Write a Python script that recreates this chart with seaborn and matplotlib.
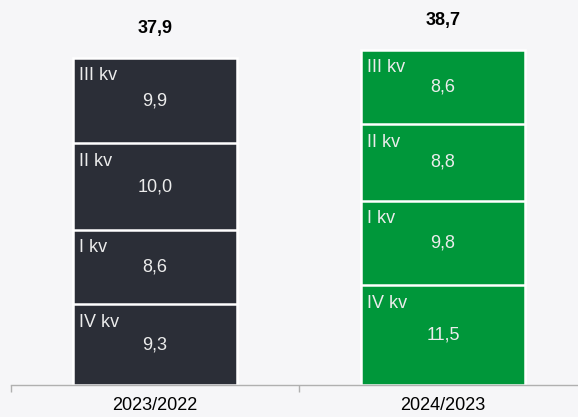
import matplotlib

matplotlib.use("Agg")
import matplotlib.pyplot as plt
import numpy as np
import pandas as pd
import seaborn as sns

periods = ["2023/2022", "2024/2023"]
quarters = ["IV kv", "I kv", "II kv", "III kv"]  # bottom to top
values_2023 = [9.3, 8.6, 10.0, 9.9]
values_2024 = [11.5, 9.8, 8.8, 8.6]
totals = ["37,9", "38,7"]
colors = ["#2b2e37", "#00973a"]

BG = "#f6f6f8"

sns.set_theme(style="white")
plt.rcParams["font.family"] = ["Liberation Sans", "DejaVu Sans"]

fig = plt.figure(figsize=(5.78, 4.17), dpi=100, facecolor=BG)
ax = fig.add_axes([11 / 578, 32 / 417, 576 / 578, 385 / 417])
ax.set_facecolor(BG)

vals = np.array([values_2023, values_2024])
cum = vals.cumsum(axis=1)

# stacked bars: draw cumulative heights from the top segment down
for k in range(len(quarters) - 1, -1, -1):
    df = pd.DataFrame({"period": periods, "value": cum[:, k]})
    sns.barplot(data=df, x="period", y="value", hue="period", palette=colors,
                saturation=1, width=0.57, edgecolor="white", linewidth=1.8,
                legend=False, ax=ax)

px = 44.46 / 385  # data units per pixel
for i in range(len(periods)):
    bottoms = np.concatenate([[0], cum[i, :-1]])
    for k, q in enumerate(quarters):
        top = cum[i, k]
        mid = (bottoms[k] + top) / 2
        ax.text(i - 0.285 + 0.022, top - 18 * px, q, ha="left", va="center",
                color="#ececec", fontsize=13)
        ax.text(i, mid, f"{vals[i, k]:.1f}".replace(".", ","), ha="center", va="center",
                color="#ececec", fontsize=13)
    ax.text(i, cum[i, -1] + 29 * px, totals[i], ha="center", va="center",
            color="black", fontsize=13, fontweight="bold")

ax.set_xlim(-0.5, 1.5)
ax.set_ylim(0, 44.46)
ax.set_xlabel("")
ax.set_ylabel("")
ax.set_yticks([])
sns.despine(ax=ax, left=True)
ax.spines["bottom"].set_color("#b0b0b0")
ax.spines["bottom"].set_linewidth(1)
ax.set_xticks([-0.5, 0.5, 1.5], minor=True)
ax.tick_params(axis="x", which="minor", length=5, color="#b0b0b0", direction="out", bottom=True)
ax.tick_params(axis="x", which="major", length=0, pad=9, labelsize=13, labelcolor="black")

fig.savefig("out.png", dpi=100, facecolor=BG)
